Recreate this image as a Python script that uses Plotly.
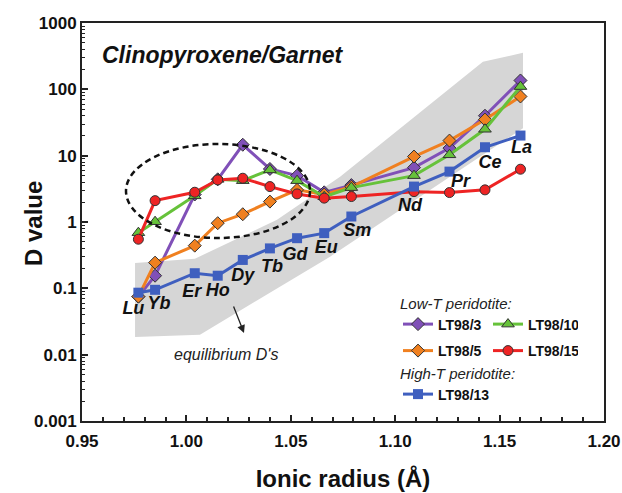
import plotly.graph_objects as go

# ---------------- data ----------------
elements = ["Lu", "Yb", "Er", "Ho", "Dy", "Tb", "Gd", "Eu", "Sm", "Nd", "Pr", "Ce", "La"]
radius = [0.977, 0.985, 1.004, 1.015, 1.027, 1.040, 1.053, 1.066, 1.079, 1.109, 1.126, 1.143, 1.160]

lt98_3 = [0.075, 0.155, 2.6, 4.4, 14.6, 6.3, 5.0, 2.8, 3.6, 6.6, 13.0, 40.0, 136.0]
lt98_10 = [0.69, 1.01, 2.48, 4.4, 4.2, 6.1, 4.2, 2.4, 3.3, 5.0, 10.3, 25.0, 110.0]
lt98_5 = [0.075, 0.244, 0.44, 0.96, 1.31, 2.03, 3.05, 2.6, 3.4, 9.7, 16.9, 35.0, 78.0]
lt98_15 = [0.55, 2.10, 2.81, 4.31, 4.57, 3.42, 2.65, 2.29, 2.42, 2.87, 2.78, 3.05, 6.25]
lt98_13 = [0.086, 0.095, 0.169, 0.155, 0.268, 0.40, 0.57, 0.68, 1.21, 3.42, 5.75, 13.4, 20.1]

# equilibrium D's band (upper and lower envelopes)
band_upper_r = [0.9754, 1.0041, 1.0434, 1.0736, 1.142, 1.1612]
band_upper_D = [0.24, 0.28, 1.08, 4.8, 260.0, 355.0]
band_lower_r = [0.9754, 1.0065, 1.0688, 1.1612]
band_lower_D = [0.0185, 0.020, 0.30, 26.0]

y_tickvals = [0.001, 0.01, 0.1, 1, 10, 100, 1000]
y_ticktext = ["0.001", "0.01", "0.1", "1", "10", "100", "1000"]

# ---------------- styling helpers ----------------
FONT = "Arial, Liberation Sans, sans-serif"
L, R, T, B = 82, 18, 23, 72
W, H = 622, 493
PW, PH = W - L - R, H - T - B
XPX = PW / 0.25          # px per unit radius
YPX = PH / 6.0           # px per decade


def px(xp, yp):
    """pixel -> paper coordinates"""
    return (xp - L) / PW, (H - B - yp) / PH


# label offsets (pixels: dx right, dy down) relative to LT98/13 points
lab_off = [(-5, 17), (4, 15), (-3, 19), (0, 16), (0, 17), (2, 19), (-2, 17),
           (2, 15), (6, 15), (-4, 20), (11, 11), (5, 16), (1, 13)]

fig = go.Figure()

# band
fig.add_trace(go.Scatter(
    x=band_upper_r + band_lower_r[::-1],
    y=band_upper_D + band_lower_D[::-1],
    fill="toself", fillcolor="#d6d6d6", line=dict(width=0),
    mode="lines", showlegend=False, hoverinfo="skip"))

outline = dict(color="#333333", width=1)
series = [
    ("LT98/3", lt98_3, "#8050b8", "diamond", 10, "legend", outline),
    ("LT98/5", lt98_5, "#f08020", "diamond", 10, "legend2", outline),
    ("LT98/10", lt98_10, "#66c23a", "triangle-up", 11, "legend", outline),
    ("LT98/15", lt98_15, "#ee2424", "circle", 10, "legend2", outline),
    ("LT98/13", lt98_13, "#3f5fbf", "square", 10, "legend3", dict(width=0)),
]
for name, vals, col, sym, sz, leg, ol in series:
    fig.add_trace(go.Scatter(
        x=radius, y=vals, name=name, mode="lines+markers",
        line=dict(color=col, width=3),
        marker=dict(symbol=sym, size=sz, color=col, line=ol),
        legend=leg))

# element labels
lab_x = [r + o[0] / XPX for r, o in zip(radius, lab_off)]
lab_y = [v * 10 ** (-o[1] / YPX) for v, o in zip(lt98_13, lab_off)]
fig.add_trace(go.Scatter(
    x=lab_x, y=lab_y, text=[f"<b><i>{e}</i></b>" for e in elements],
    mode="text", textposition="middle center",
    textfont=dict(family=FONT, size=18, color="#111"),
    showlegend=False, hoverinfo="skip"))

# dashed ellipse
ex0, ey0 = px(126, 238)
ex1, ey1 = px(310, 144)
fig.add_shape(type="circle", xref="paper", yref="paper",
              x0=ex0, x1=ex1, y0=ey0, y1=ey1,
              line=dict(color="#111", width=2.5, dash="6px,4px"))

tx, ty = px(100, 55)
fig.add_annotation(xref="paper", yref="paper", x=tx, y=ty, xanchor="left", yanchor="middle",
                   text="<b><i>Clinopyroxene/Garnet</i></b>", showarrow=False,
                   font=dict(family=FONT, size=23, color="#111"))

qx, qy = px(226, 354)
fig.add_annotation(xref="paper", yref="paper", x=qx, y=qy, xanchor="center", yanchor="middle",
                   text="<i>equilibrium D's</i>", showarrow=False,
                   font=dict(family=FONT, size=16, color="#222"))
ax_, ay_ = px(244, 333)
fig.add_annotation(xref="paper", yref="paper", x=ax_, y=ay_, text="", showarrow=True,
                   ax=-11, ay=-28, arrowhead=2, arrowsize=1.2, arrowwidth=1.3, arrowcolor="#222")

# y axis title (placed as rotated text to match original position)
yx, yy = px(33, 224)
fig.add_annotation(xref="paper", yref="paper", x=yx, y=yy, xanchor="center", yanchor="middle",
                   text="<b>D value</b>", textangle=-90, showarrow=False,
                   font=dict(family=FONT, size=24, color="#111"))

axis_common = dict(showline=True, linewidth=2, linecolor="#222", mirror=True,
                   ticks="inside", ticklen=6, tickwidth=1.5, tickcolor="#222",
                   showgrid=False, zeroline=False, automargin=False,
                   tickfont=dict(family=FONT, size=17, color="#111", weight="bold"))

minor_y = [m * d for d in [0.001, 0.01, 0.1, 1, 10, 100] for m in range(2, 10)]

fig.update_xaxes(range=[0.95, 1.20], tick0=0.95, dtick=0.05, tickformat=".2f",
                 ticklabelstandoff=4,
                 minor=dict(dtick=0.01, ticks="inside", ticklen=4, tickwidth=1.5, tickcolor="#222", showgrid=False),
                 title=dict(text="<b>Ionic radius (Å)</b>", standoff=20,
                            font=dict(family=FONT, size=24, color="#111")),
                 **axis_common)
fig.update_yaxes(type="log", range=[-3, 3], tickvals=y_tickvals, ticktext=y_ticktext,
                 minor=dict(tickvals=minor_y, ticks="inside", ticklen=3, tickwidth=1, tickcolor="#222", showgrid=False),
                 **axis_common)

leg_common = dict(orientation="h", xanchor="left", yanchor="top", bgcolor="rgba(0,0,0,0)",
                  font=dict(family=FONT, size=14, color="#111", weight="bold"),
                  entrywidth=45, entrywidthmode="pixels", itemwidth=30)
title_font = dict(family=FONT, size=15, style="italic", weight="normal", color="#222")
l1x, l1y = px(398, 289)
l2x, l2y = px(398, 335)
l3x, l3y = px(398, 359)
fig.update_layout(
    width=W, height=H, margin=dict(l=L, r=R, t=T, b=B, autoexpand=False),
    paper_bgcolor="white", plot_bgcolor="white",
    font=dict(family=FONT),
    legend=dict(x=l1x, y=l1y, title=dict(text="Low-T peridotite:", side="top", font=title_font), **leg_common),
    legend2=dict(x=l2x, y=l2y, **leg_common),
    legend3=dict(x=l3x, y=l3y, title=dict(text="High-T peridotite:", side="top", font=title_font), **leg_common),
)

fig.write_html("out.html")
